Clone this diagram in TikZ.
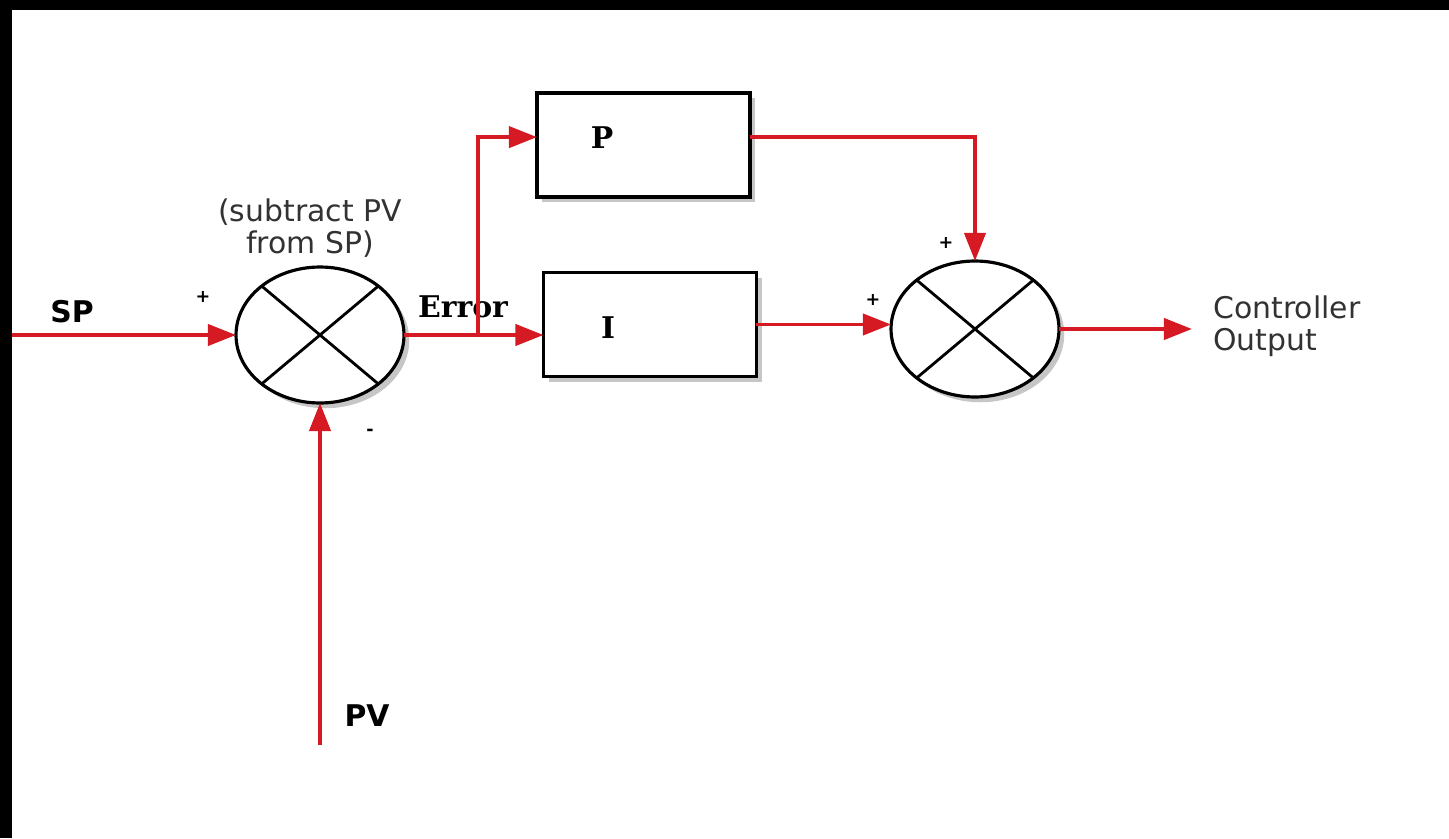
\documentclass[tikz,border=0pt]{standalone}
\usepackage{fontspec}
\setmainfont{DejaVu Sans}
\newfontfamily\serfont{DejaVu Serif}
\usepackage{xcolor}
\usetikzlibrary{shapes.geometric,arrows.meta,positioning,shadows}

\begin{document}
\begin{tikzpicture}[
  x=0.02cm, y=-0.02cm,
  cSum/.style={ellipse, draw=black, fill=white, line width=1.8pt,
    minimum width=3.36cm, minimum height=2.72cm, inner sep=0pt, outer sep=0pt,
    drop shadow={shadow xshift=3pt, shadow yshift=-3pt, opacity=0.45}},
  cBlk/.style={rectangle, draw=black, fill=white, line width=2.2pt,
    minimum width=4.26cm, minimum height=2.08cm, inner sep=0pt, outer sep=0pt,
    drop shadow={shadow xshift=3pt, shadow yshift=-3pt, opacity=0.45}},
  carr/.style={-{Triangle[length=16pt,width=12pt]}, line width=2.2pt,
    color={rgb,255:red,214;green,26;blue,36}},
  clab/.style={font=\fontsize{17}{18}\selectfont\bfseries, inner sep=0pt},
  cser/.style={font=\fontsize{17}{18}\selectfont\serfont\bfseries, inner sep=0pt},
  cnote/.style={font=\fontsize{17}{18}\selectfont, inner sep=0pt, align=center,
    text={rgb,255:red,50;green,50;blue,50}},
  csign/.style={font=\fontsize{10}{10}\selectfont\bfseries, inner sep=0pt},
]
  \useasboundingbox (0,0) rectangle (1449,838);

  %% ── Frame ───────────────────────────────────────────────────
  \fill[black] (0,0) rectangle (1449,10);
  \fill[black] (0,0) rectangle (12,838);

  %% ── Blocks ──────────────────────────────────────────────────
  \node[cSum] (sum1) at (320,335) {};
  \node[cSum] (sum2) at (975,329) {};
  \node[cBlk] (pbox) at (643.5,145) {};
  \node[cBlk] (ibox) at (650,324.5) {};

  \foreach \s in {sum1, sum2} {
    \draw[line width=1.6pt] (\s.140) -- (\s.-40);
    \draw[line width=1.6pt] (\s.40) -- (\s.-140);
  }

  %% ── Labels ──────────────────────────────────────────────────
  \node[cser] (ptext) at (602,138) {P};
  \node[cser] (itext) at (608,328) {I};
  \node[clab] (sp) at (72,312) {SP};
  \node[clab] (pv) at (367,716) {PV};
  \node[cser] (err) at (463,307) {Error};
  \node[cnote] (subnote) at (310,228) {(subtract PV\\from SP)};
  \node[cnote, anchor=west, align=left] (cout) at (1213,326) {Controller\\Output};
  \node[csign] (plus1) at (203,297) {+};
  \node[csign] (minus1) at (370,432) {-};
  \node[csign] (plus2) at (946,243) {+};
  \node[csign] (plus3) at (873,300) {+};

  %% ── Connectors ──────────────────────────────────────────────
  \coordinate (spin) at (12,335);
  \coordinate (pvin) at (320,745);
  \coordinate (brk) at (478,335);
  \coordinate (pin) at ([yshift=4.5pt]pbox.west);
  \coordinate (out) at (1192,329);

  \draw[carr] (spin) -- (sum1.west);
  \draw[carr] (pvin) -- (sum1.south);
  \draw[carr] (sum1.east) -- (sum1.east -| ibox.west);
  \draw[carr] (brk) |- (pin);
  \draw[carr] (pin -| pbox.east) -| (sum2.north);
  \draw[carr] (ibox.east) -- (ibox.east -| sum2.west);
  \draw[carr] (sum2.east) -- (out);

\end{tikzpicture}
\end{document}
